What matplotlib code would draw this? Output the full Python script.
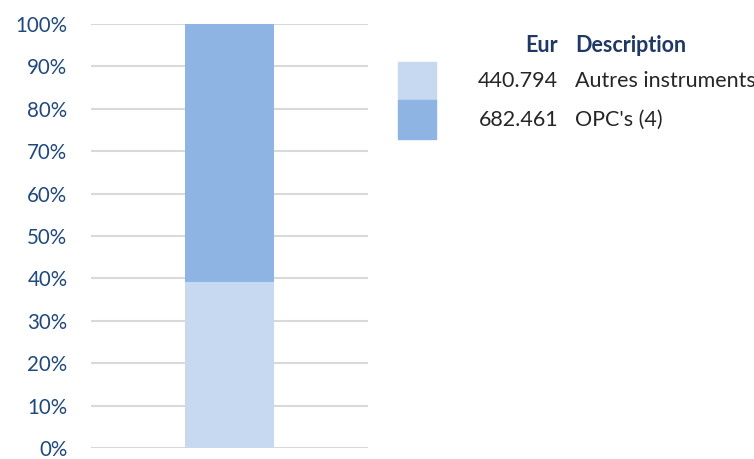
import matplotlib
matplotlib.use('Agg')
from matplotlib import pyplot as plt
from matplotlib.patches import Rectangle

# values in Eur and their descriptions
eur = [440.794, 682.461]
descriptions = ['Autres instruments', "OPC's (4)"]
eur_labels = ['440.794', '682.461']
colors = ['#C6D9F1', '#8EB4E3']
yticks = list(range(0, 101, 10))

total = sum(eur)
shares = [v / total * 100 for v in eur]

plt.rcParams['font.family'] = ['Lato', 'DejaVu Sans']

fig = plt.figure(figsize=(7.54, 4.59), dpi=100)
ax = fig.add_axes([0.1207, 0.024, 0.3674, 0.924])

bottom = 0
for share, c in zip(shares, colors):
    ax.bar(0, share, bottom=bottom, width=0.318, color=c, zorder=2)
    bottom += share

ax.set_xlim(-0.5, 0.5)
ax.set_ylim(0, 100)
ax.set_yticks(yticks)
ax.set_yticklabels([f'{t}%' for t in yticks], fontsize=14.8, color='#1F497D')
ax.set_xticks([])
ax.tick_params(axis='y', length=0, pad=17)
ax.grid(axis='y', color='#D9D9D9', linewidth=1.5, zorder=0)
for s in ax.spines.values():
    s.set_visible(False)

# legend table on the right
fig.text(558 / 754, 1 - 45 / 459, 'Eur', ha='right', va='center',
         fontsize=15.5, fontweight='bold', color='#1F3864')
fig.text(575 / 754, 1 - 45 / 459, 'Description', ha='left', va='center',
         fontsize=15.5, fontweight='bold', color='#1F3864')
row_y = [81, 120]
box_top = [62, 100]
box_h = [38, 39]
for lab, desc, c, y, bt, bh in zip(eur_labels, descriptions, colors, row_y, box_top, box_h):
    fig.patches.append(Rectangle((398 / 754, 1 - (bt + bh) / 459), 38 / 754, bh / 459,
                                 transform=fig.transFigure, color=c, figure=fig))
    fig.text(558 / 754, 1 - y / 459, lab, ha='right', va='center',
             fontsize=15.5, color='#262626')
    fig.text(575 / 754, 1 - y / 459, desc, ha='left', va='center',
             fontsize=15.5, color='#262626')

plt.savefig('out.png', dpi=100)
